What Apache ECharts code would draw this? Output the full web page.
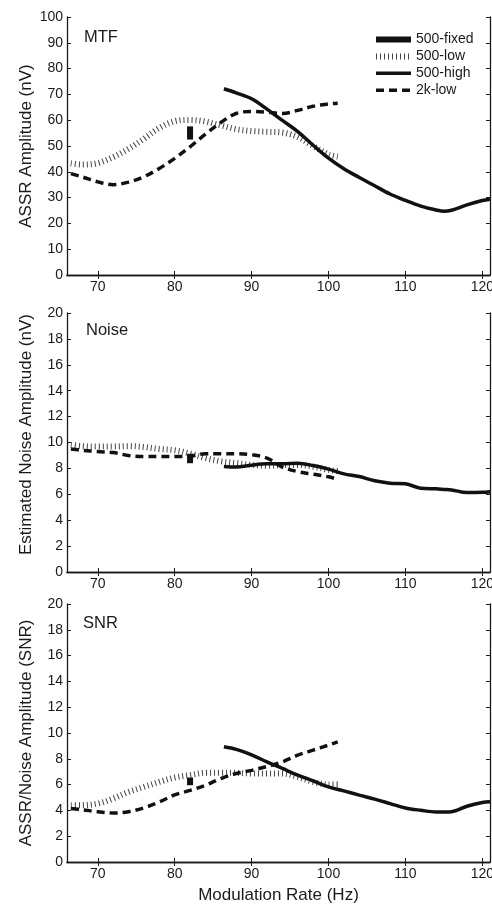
<!DOCTYPE html>
<html>
<head>
<meta charset="utf-8">
<title>ASSR amplitude, noise and SNR versus modulation rate</title>
<script src="https://cdn.jsdelivr.net/npm/echarts@6/dist/echarts.min.js"></script>
<style>
  html, body { margin: 0; padding: 0; background: #fff; }
  #chart { width: 492px; height: 904px; }
</style>
</head>
<body>
<div id="chart"></div>
<script>
// Modulation rates (Hz) for each stimulus condition
const rateFixed = [82, 82];
const rateLow = [66.5, 68, 70, 72, 74, 76, 78, 80, 82, 84, 86, 88, 90, 92, 94, 96, 98, 100, 101.2];
const rateHigh = [86.4, 88, 90, 92, 94, 96, 98, 100, 102, 104, 106, 108, 110, 112, 114, 115, 116, 118, 120, 121];

// MTF: ASSR amplitude (nV)
const mtfFixed = [52.5, 57.6];
const mtfLow500 = [43.3, 42.8, 43.4, 45.7, 48.9, 52.8, 57.0, 59.6, 60.1, 59.5, 58.0, 56.5, 55.8, 55.5, 55.2, 53.5, 50.0, 46.8, 45.9];
const mtfHigh500 = [72.2, 70.6, 68.3, 64.3, 59.9, 55.6, 50.3, 45.3, 41.2, 37.8, 34.6, 31.4, 28.9, 26.7, 25.2, 24.7, 25.1, 27.2, 28.9, 29.4];
const mtfLow2k = [39.3, 38.0, 36.1, 35.0, 36.0, 38.1, 41.3, 45.2, 49.7, 54.6, 59.1, 62.6, 63.4, 63.1, 62.6, 63.8, 65.4, 66.3, 66.6];

// Noise: estimated noise amplitude (nV)
const noiseFixed = [8.4, 9.13];
const noiseLow500 = [9.82, 9.72, 9.69, 9.69, 9.72, 9.65, 9.5, 9.4, 9.15, 8.8, 8.55, 8.42, 8.27, 8.2, 8.25, 8.27, 8.14, 7.89, 7.78];
const noiseHigh500 = [8.14, 8.1, 8.25, 8.35, 8.35, 8.4, 8.22, 7.94, 7.58, 7.37, 7.04, 6.86, 6.81, 6.47, 6.42, 6.38, 6.34, 6.13, 6.15, 6.2];
const noiseLow2k = [9.49, 9.4, 9.3, 9.22, 9.0, 8.92, 8.92, 8.92, 8.95, 9.13, 9.13, 9.13, 9.05, 8.8, 8.1, 7.75, 7.55, 7.35, 7.15];

// SNR: ASSR / noise amplitude
const snrFixed = [5.95, 6.55];
const snrLow500 = [4.4, 4.4, 4.53, 4.92, 5.43, 5.82, 6.21, 6.55, 6.73, 6.91, 6.91, 6.91, 6.86, 6.86, 6.86, 6.6, 6.21, 6.01, 6.0];
const snrHigh500 = [8.93, 8.73, 8.3, 7.76, 7.25, 6.73, 6.29, 5.82, 5.51, 5.18, 4.87, 4.53, 4.19, 4.01, 3.88, 3.88, 3.9, 4.32, 4.61, 4.67];
const snrLow2k = [4.14, 4.05, 3.9, 3.8, 3.9, 4.2, 4.65, 5.2, 5.55, 5.95, 6.47, 6.86, 7.1, 7.4, 7.76, 8.28, 8.67, 9.06, 9.32];

// Axis ticks and panel texts
const xTicks = [70, 80, 90, 100, 110, 120];
const panelNames = ['MTF', 'Noise', 'SNR'];
const yTitles = ['ASSR Amplitude (nV)', 'Estimated Noise Amplitude (nV)', 'ASSR/Noise Amplitude (SNR)'];
const yMax = [100, 20, 20];
const yStep = [10, 2, 2];
const seriesNames = ['500-fixed', '500-low', '500-high', '2k-low'];

const FONT = '"Liberation Sans", Arial, Helvetica, sans-serif';
const INK = '#1a1a1a';

const panels = [
  { fixed: mtfFixed, low500: mtfLow500, high500: mtfHigh500, low2k: mtfLow2k },
  { fixed: noiseFixed, low500: noiseLow500, high500: noiseHigh500, low2k: noiseLow2k },
  { fixed: snrFixed, low500: snrLow500, high500: snrHigh500, low2k: snrLow2k }
];

const grids = [
  { left: 67, right: 2, top: 17, height: 258 },
  { left: 67, right: 2, top: 313, height: 259 },
  { left: 67, right: 2, top: 604, height: 258 }
].map(g => Object.assign(g, { outerBoundsMode: 'none', containLabel: false }));

// the long middle title sits a little above the panel centre
const yTitlePadding = [0, [0, 0, 0, 16], 0];

const pairs = (xs, ys) => xs.map((x, i) => [x, ys[i]]);

const axisLineStyle = { show: true, lineStyle: { color: INK, width: 1.3 } };
const tickStyle = { show: true, inside: true, length: 4, lineStyle: { color: INK, width: 1 } };

const xAxes = [];
const yAxes = [];
const series = [];

panels.forEach((p, g) => {
  // bottom x axis with labels
  xAxes.push({
    type: 'value', gridIndex: g, min: 66, max: 121, position: 'bottom',
    axisLine: axisLineStyle,
    axisTick: Object.assign({ customValues: xTicks }, tickStyle),
    axisLabel: { customValues: xTicks, color: INK, fontSize: 14, fontFamily: FONT, margin: 5 },
    splitLine: { show: false },
    name: g === 2 ? 'Modulation Rate (Hz)' : '',
    nameLocation: 'middle', nameGap: 25, nameMoveOverlap: false,
    nameTextStyle: { color: INK, fontSize: 17, fontFamily: FONT }
  });
  // top frame edge
  xAxes.push({
    type: 'value', gridIndex: g, min: 66, max: 121, position: 'top',
    axisLine: axisLineStyle,
    axisTick: Object.assign({ customValues: xTicks }, tickStyle),
    axisLabel: { show: false },
    splitLine: { show: false }
  });
  // left y axis with labels
  yAxes.push({
    type: 'value', gridIndex: g, min: 0, max: yMax[g], interval: yStep[g], position: 'left',
    axisLine: axisLineStyle, axisTick: tickStyle,
    axisLabel: { color: INK, fontSize: 14, fontFamily: FONT, margin: 4 },
    splitLine: { show: false },
    name: yTitles[g], nameLocation: 'middle', nameGap: 32, nameRotate: 90, nameMoveOverlap: false,
    nameTextStyle: { color: INK, fontSize: 17, fontFamily: FONT, padding: yTitlePadding[g] }
  });
  // right frame edge
  yAxes.push({
    type: 'value', gridIndex: g, min: 0, max: yMax[g], interval: yStep[g], position: 'right',
    axisLine: axisLineStyle, axisTick: tickStyle,
    axisLabel: { show: false }, splitLine: { show: false }
  });

  const xi = g * 2, yi = g * 2;
  series.push({
    name: '500-fixed', type: 'line', xAxisIndex: xi, yAxisIndex: yi,
    data: pairs(rateFixed, p.fixed), symbol: 'none',
    itemStyle: { color: '#111' },
    lineStyle: { color: '#111', width: 6, cap: 'butt' }
  });
  series.push({
    name: '500-low', type: 'line', xAxisIndex: xi, yAxisIndex: yi,
    data: pairs(rateLow, p.low500), symbol: 'none', smooth: 0.35,
    itemStyle: { color: '#444' },
    lineStyle: { color: '#444', width: 6, type: [1, 3], cap: 'butt' }
  });
  series.push({
    name: '500-high', type: 'line', xAxisIndex: xi, yAxisIndex: yi,
    data: pairs(rateHigh, p.high500), symbol: 'none', smooth: 0.35,
    itemStyle: { color: '#111' },
    lineStyle: { color: '#111', width: 3.5 }
  });
  series.push({
    name: '2k-low', type: 'line', xAxisIndex: xi, yAxisIndex: yi,
    data: pairs(rateLow, p.low2k), symbol: 'none', smooth: 0.35,
    itemStyle: { color: '#111' },
    lineStyle: { color: '#111', width: 3.5, type: [8, 5], cap: 'butt' }
  });
});

const titles = [
  { text: panelNames[0], left: 84, top: 29 },
  { text: panelNames[1], left: 86, top: 322 },
  { text: panelNames[2], left: 83, top: 615 }
].map(t => Object.assign(t, {
  padding: 0,
  textStyle: { color: INK, fontSize: 16.5, fontWeight: 'normal', fontFamily: FONT }
}));

const chart = echarts.init(document.getElementById('chart'), null, { renderer: 'canvas' });
chart.setOption({
  animation: false,
  backgroundColor: '#fff',
  title: titles,
  legend: {
    data: seriesNames,
    orient: 'vertical',
    left: 373, top: 32.5,
    padding: 0,
    itemWidth: 35, itemHeight: 12, itemGap: 2.9,
    itemStyle: { opacity: 0 },
    lineStyle: { width: 'inherit' },
    textStyle: { color: INK, fontSize: 14, fontFamily: FONT },
    selectedMode: false
  },
  grid: grids,
  xAxis: xAxes,
  yAxis: yAxes,
  series: series
});
</script>
</body>
</html>
